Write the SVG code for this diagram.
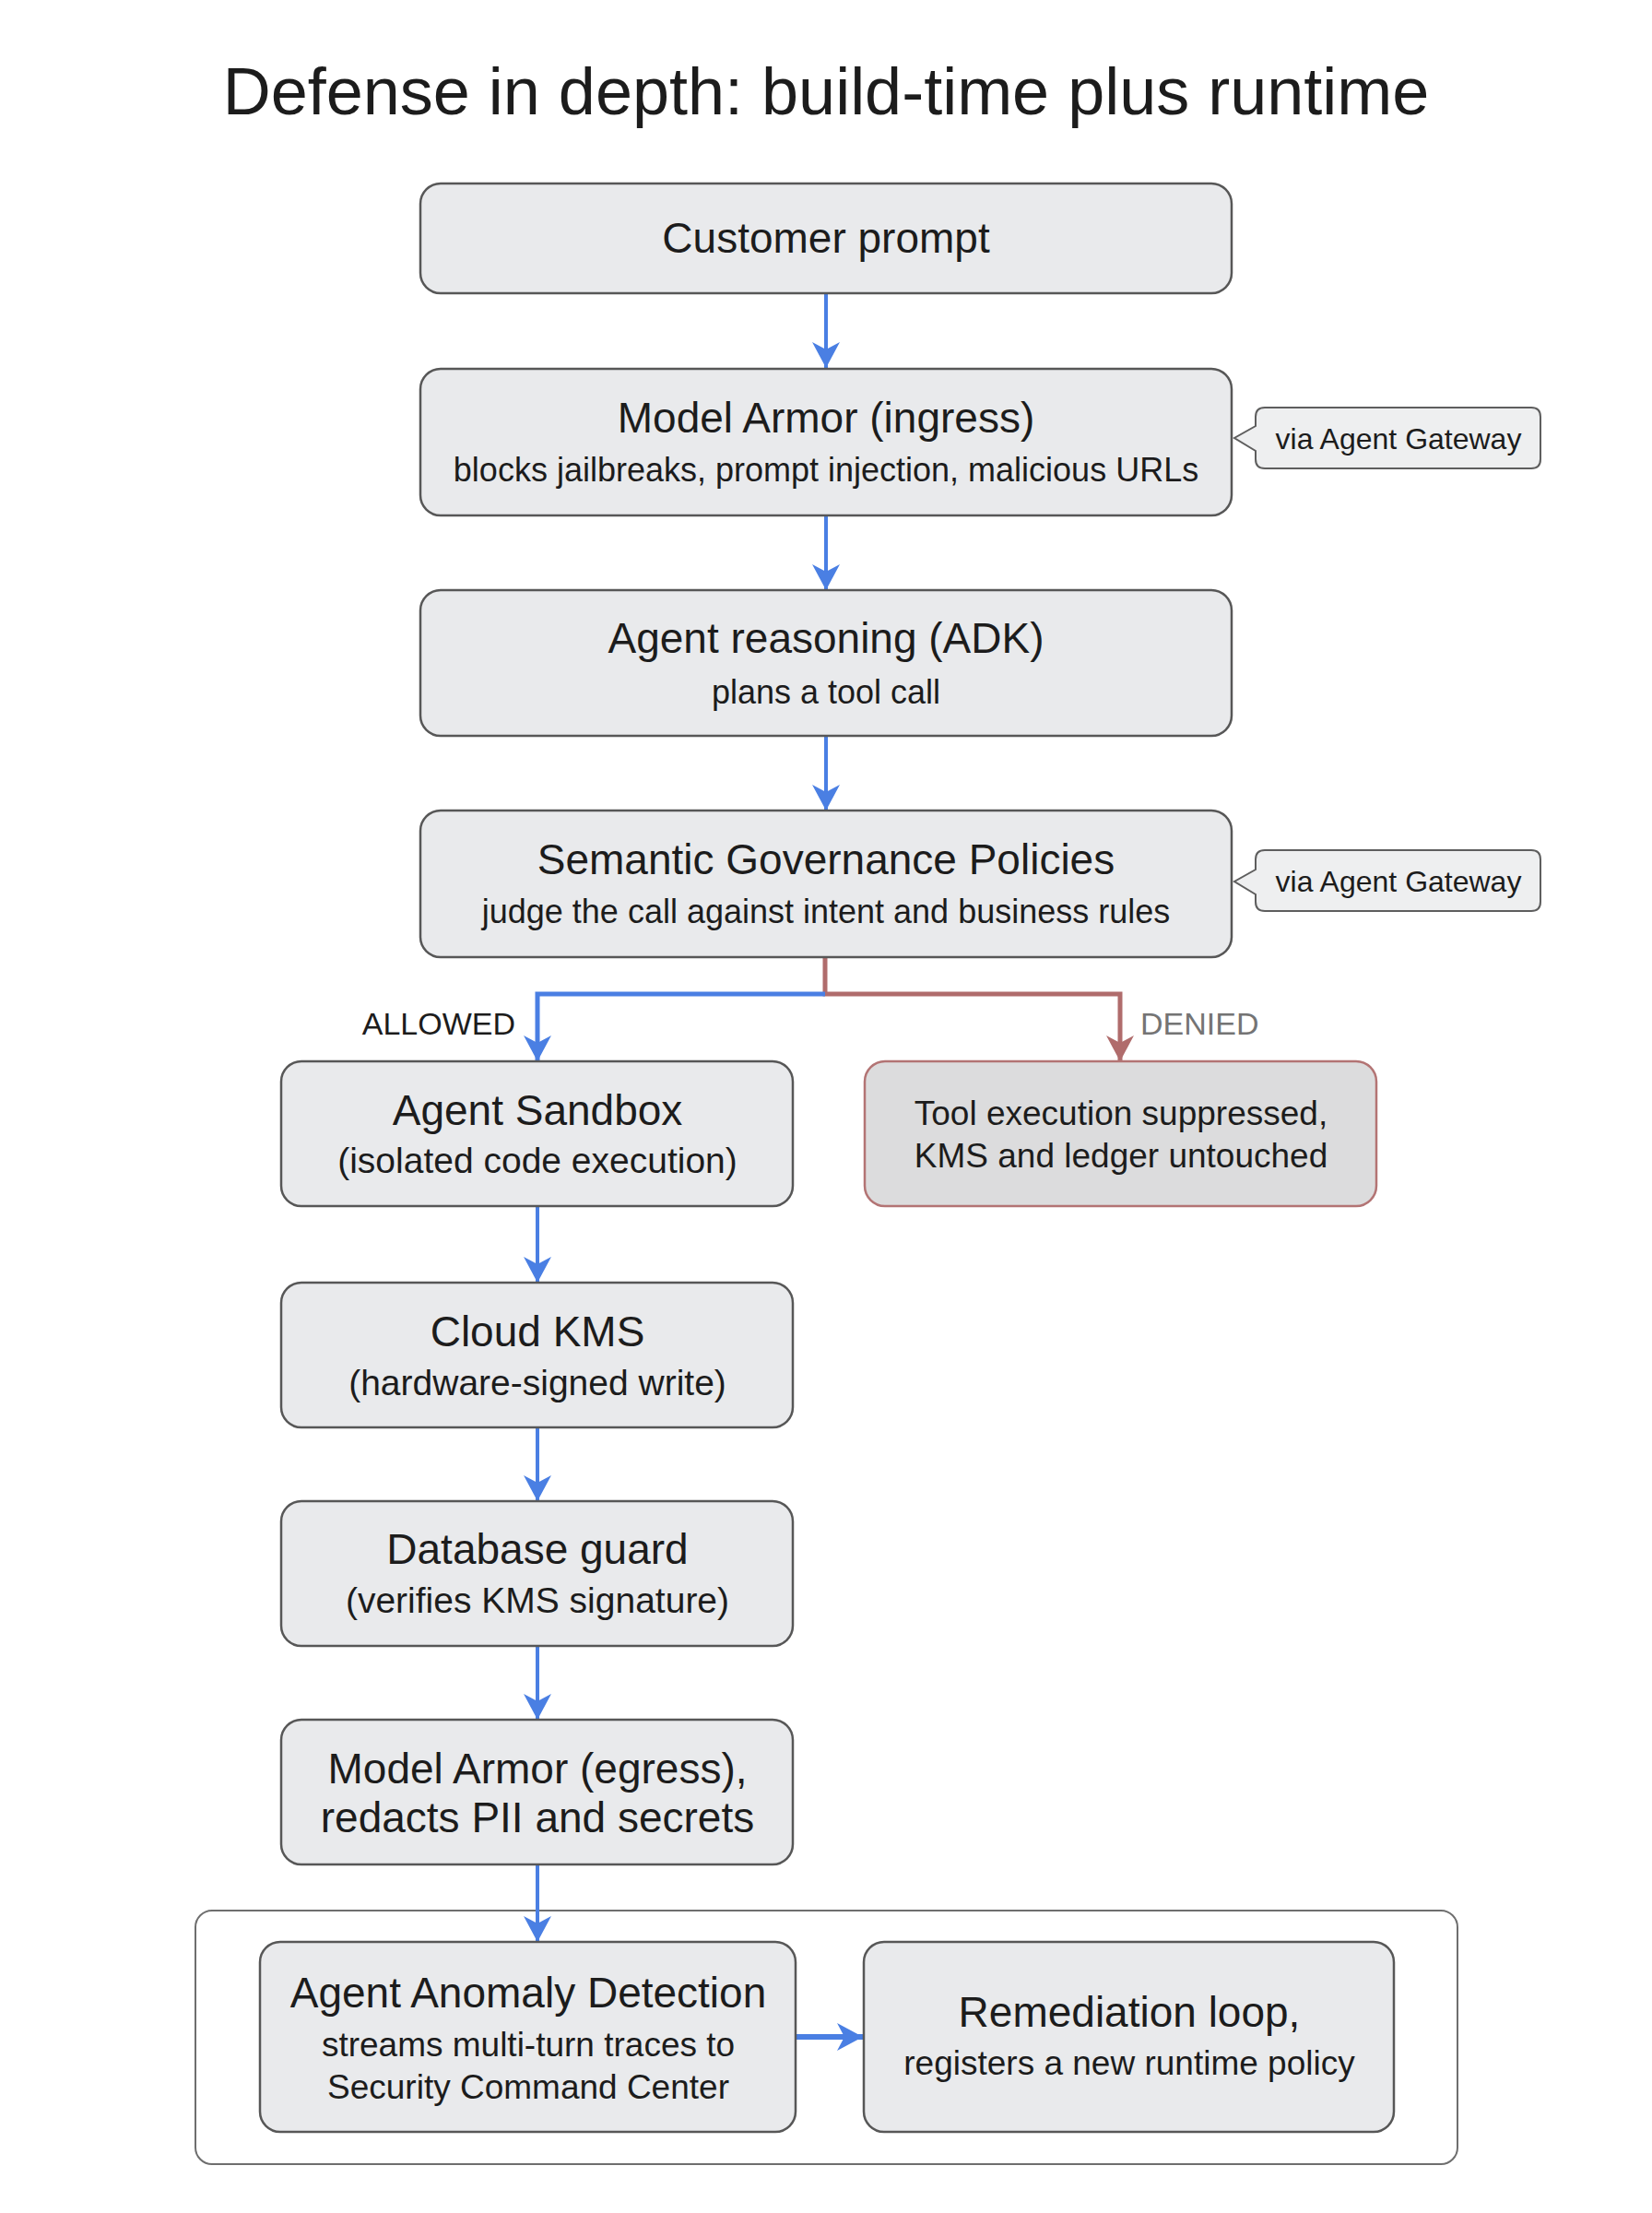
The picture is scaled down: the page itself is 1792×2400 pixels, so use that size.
<svg xmlns="http://www.w3.org/2000/svg" width="1792" height="2400" viewBox="0 0 1792 2400">
  <style>
    text { font-family: "Liberation Sans", Arial, sans-serif; fill: #1c1c1c; text-anchor: middle; }
    .title { font-size: 72px; }
    .h { font-size: 46px; }
    .s { font-size: 36px; }
    .s2 { font-size: 39px; }
    .d { font-size: 37px; }
    .note { font-size: 32px; }
    .lbl { font-size: 34px; }
    .box { fill: #e9eaec; stroke: #575757; stroke-width: 2.5; }
    .denied { fill: #dcdcdd; stroke: #b37474; stroke-width: 2.5; }
    .callout { fill: #eeeff0; stroke: #5e5e5e; stroke-width: 2; }
    .group { fill: #ffffff; stroke: #6e6e6e; stroke-width: 2; }
    .blue { stroke: #4a7fe3; stroke-width: 4; fill: none; }
    .red { stroke: #b06c6c; stroke-width: 4; fill: none; }
  </style>
  <defs>
    <marker id="ab" markerUnits="userSpaceOnUse" markerWidth="30" markerHeight="30" refX="28" refY="15" orient="auto">
      <path d="M0,0 L28,15 L0,30 L8,15 z" fill="#4a7fe3"/>
    </marker>
    <marker id="ar" markerUnits="userSpaceOnUse" markerWidth="30" markerHeight="30" refX="28" refY="15" orient="auto">
      <path d="M0,0 L28,15 L0,30 L8,15 z" fill="#b06c6c"/>
    </marker>
  </defs>
  <rect x="0" y="0" width="1792" height="2400" fill="#ffffff"/>

  <text class="title" x="896" y="124">Defense in depth: build-time plus runtime</text>

  <g id="runtime-loop">
    <rect class="group" x="212" y="2072" width="1369" height="275" rx="18"/>
  </g>

  <g id="connectors">
    <line class="blue" x1="896" y1="318" x2="896" y2="399" marker-end="url(#ab)"/>
    <line class="blue" x1="896" y1="560" x2="896" y2="640" marker-end="url(#ab)"/>
    <line class="blue" x1="896" y1="799" x2="896" y2="879" marker-end="url(#ab)"/>
    <polyline class="red" points="895,1039 895,1078 1215,1078 1215,1151" marker-end="url(#ar)" style="stroke-width:5"/>
    <polyline class="blue" points="895,1078 583,1078 583,1151" marker-end="url(#ab)" style="stroke-width:5"/>
    <line class="blue" x1="583" y1="1308" x2="583" y2="1391" marker-end="url(#ab)"/>
    <line class="blue" x1="583" y1="1548" x2="583" y2="1628" marker-end="url(#ab)"/>
    <line class="blue" x1="583" y1="1785" x2="583" y2="1865" marker-end="url(#ab)"/>
    <line class="blue" x1="583" y1="2022" x2="583" y2="2106" marker-end="url(#ab)"/>
    <line class="blue" x1="863" y1="2209" x2="936" y2="2209" marker-end="url(#ab)" style="stroke-width:6"/>
    <text class="lbl" x="559" y="1122" style="text-anchor:end">ALLOWED</text>
    <text class="lbl" x="1237" y="1122" style="text-anchor:start; fill:#747474">DENIED</text>
  </g>

  <g id="customer-prompt">
    <rect class="box" x="456" y="199" width="880" height="119" rx="22"/>
    <text class="h" x="896" y="274">Customer prompt</text>
  </g>

  <g id="model-armor-ingress">
    <rect class="box" x="456" y="400" width="880" height="159" rx="22"/>
    <text class="h" x="896" y="469">Model Armor (ingress)</text>
    <text class="s" x="896" y="522">blocks jailbreaks, prompt injection, malicious URLs</text>
  </g>

  <g id="gateway-note-1">
    <path class="callout" d="M1372,442 H1661 Q1671,442 1671,452 V498 Q1671,508 1661,508 H1372 Q1362,508 1362,498 V489 L1339,475 L1362,462 V452 Q1362,442 1372,442 Z"/>
    <text class="note" x="1517" y="487">via Agent Gateway</text>
  </g>

  <g id="agent-reasoning">
    <rect class="box" x="456" y="640" width="880" height="158" rx="22"/>
    <text class="h" x="896" y="708">Agent reasoning (ADK)</text>
    <text class="s" x="896" y="763">plans a tool call</text>
  </g>

  <g id="semantic-governance">
    <rect class="box" x="456" y="879" width="880" height="159" rx="22"/>
    <text class="h" x="896" y="948">Semantic Governance Policies</text>
    <text class="s" x="896" y="1001">judge the call against intent and business rules</text>
  </g>

  <g id="gateway-note-2">
    <path class="callout" d="M1372,922 H1661 Q1671,922 1671,932 V978 Q1671,988 1661,988 H1372 Q1362,988 1362,978 V970 L1339,956 L1362,943 V932 Q1362,922 1372,922 Z"/>
    <text class="note" x="1517" y="967">via Agent Gateway</text>
  </g>

  <g id="agent-sandbox">
    <rect class="box" x="305" y="1151" width="555" height="157" rx="22"/>
    <text class="h" x="583" y="1220">Agent Sandbox</text>
    <text class="s2" x="583" y="1272">(isolated code execution)</text>
  </g>

  <g id="tool-suppressed">
    <rect class="denied" x="938" y="1151" width="555" height="157" rx="22"/>
    <text class="d" x="1216" y="1220">Tool execution suppressed,</text>
    <text class="d" x="1216" y="1266">KMS and ledger untouched</text>
  </g>

  <g id="cloud-kms">
    <rect class="box" x="305" y="1391" width="555" height="157" rx="22"/>
    <text class="h" x="583" y="1460">Cloud KMS</text>
    <text class="s2" x="583" y="1513">(hardware-signed write)</text>
  </g>

  <g id="database-guard">
    <rect class="box" x="305" y="1628" width="555" height="157" rx="22"/>
    <text class="h" x="583" y="1696">Database guard</text>
    <text class="s2" x="583" y="1749">(verifies KMS signature)</text>
  </g>

  <g id="model-armor-egress">
    <rect class="box" x="305" y="1865" width="555" height="157" rx="22"/>
    <text class="h" x="583" y="1934">Model Armor (egress),</text>
    <text class="h" x="583" y="1987">redacts PII and secrets</text>
  </g>

  <g id="anomaly-detection">
    <rect class="box" x="282" y="2106" width="581" height="206" rx="22"/>
    <text class="h" x="573" y="2177">Agent Anomaly Detection</text>
    <text class="d" x="573" y="2230">streams multi-turn traces to</text>
    <text class="d" x="573" y="2276">Security Command Center</text>
  </g>

  <g id="remediation-loop">
    <rect class="box" x="937" y="2106" width="575" height="206" rx="22"/>
    <text class="h" x="1225" y="2198">Remediation loop,</text>
    <text class="d" x="1225" y="2250">registers a new runtime policy</text>
  </g>
</svg>
